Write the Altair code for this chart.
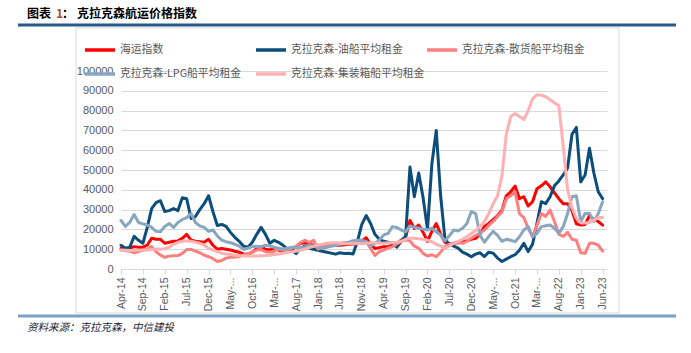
import altair as alt
import pandas as pd

# ---------------- data ----------------
series_names = ["海运指数", "克拉克森-油船平均租金", "克拉克森-散货船平均租金",
                "克拉克森-LPG船平均租金", "克拉克森-集装箱船平均租金"]
series_colors = ["#FF0000", "#0D4D7B", "#FF7F7F", "#88A6BF", "#FFB1B1"]

tick_labels = ["Apr-14", "Sep-14", "Feb-15", "Jul-15", "Dec-15", "May-...", "Oct-16",
               "Mar-...", "Aug-17", "Jan-18", "Jun-18", "Nov-18", "Apr-19", "Sep-19",
               "Feb-20", "Jul-20", "Dec-20", "May-...", "Oct-21", "Mar-...", "Aug-22",
               "Jan-23", "Jun-23"]

shipping_index = [
    10500, 10000, 10500, 11300, 11000, 11000, 12000, 15500, 15000, 15000,
    13000, 13500, 14000, 14200, 15500, 17500, 14600, 14000, 13800, 13500,
    15000, 12000, 10000, 10400, 10000, 9600, 9000, 8500, 7500, 7500,
    8500, 10300, 11300, 10000, 9600, 10400, 9500, 8700, 9500, 10000,
    11300, 13000, 13300, 12500, 12000, 11300, 11500, 12000, 12100, 12000,
    12000, 12200, 12400, 12600, 13000, 14000, 15800, 12500, 10400, 10800,
    11300, 11300, 12000, 13000, 14500, 16000, 24500, 20500, 22200, 18500,
    14000, 19000, 23000, 17500, 13500, 12600, 13000, 13300, 13800, 14200,
    15000, 15500, 17500, 21500, 23000, 25000, 27000, 29500, 37000, 39000,
    41900, 35500, 36500, 31800, 34000, 40500, 42000, 44000, 41500, 38500,
    35500, 33000, 33000, 29500, 22800, 22200, 22500, 27000, 25000, 24000,
    22200]

tanker = [
    12000, 10500, 11000, 16500, 14500, 13000, 21000, 30500, 33500, 34500,
    29000, 29500, 30500, 29500, 36000, 35500, 25500, 26500, 30000, 33000,
    37000, 29000, 22000, 22500, 21500, 18500, 16000, 14000, 11500, 11000,
    13500, 17500, 21000, 17500, 13000, 14500, 13500, 12000, 10000, 9500,
    7800, 10500, 11500, 10500, 10000, 9500, 9000, 8500, 8000, 7500,
    8200, 7800, 8000, 7600, 14000, 22500, 27000, 23000, 17500, 15000,
    14000, 13500, 13000, 11000, 14000, 16500, 51500, 36500, 48500, 36000,
    20000, 53000, 70000, 37000, 15000, 12500, 11500, 10500, 8500, 7500,
    6200, 7500, 8200, 6300, 8500, 8000, 5500, 3800, 5000, 6200,
    7200, 9500, 13000, 8800, 12500, 23000, 34000, 33000, 36500, 42000,
    44500, 47500, 51000, 68000, 71500, 44000, 47500, 61000, 48500, 39000,
    35500]

dry_bulk = [
    9600, 9300, 9000, 8200, 8800, 9600, 10000, 11300, 8700, 7000,
    5900, 6500, 6700, 6800, 7900, 9800, 9900, 9000, 8200, 7000,
    6200, 5200, 3800, 4300, 5500, 5900, 6000, 6300, 7000, 7800,
    8500, 9600, 9800, 8700, 8500, 9000, 10000, 9500, 9800, 10500,
    11300, 13500, 14500, 13500, 14500, 10000, 11000, 11500, 12000, 12500,
    13000, 13300, 12800, 12500, 13000, 13500, 13800, 10400, 6800, 8800,
    9600, 10500, 11300, 12600, 14000, 14600, 14200, 11500, 10500, 7900,
    6600, 7200, 6200, 8500, 11300, 12500, 13000, 13300, 13000, 14000,
    15500, 17000, 18000, 19700, 22000, 24000, 26500, 28800, 35500, 37000,
    39000, 28000, 26000, 20500, 16300, 22000, 28000, 26500, 29800, 24000,
    17500, 16500, 18500, 15000, 14500, 8200, 7900, 13000, 13000, 12000,
    9000]

lpg = [
    24500, 21500, 23500, 27500, 23500, 22800, 22200, 21000, 19000, 18800,
    21500, 23000, 21000, 23500, 25000, 26000, 28000, 23500, 21800, 21000,
    19000, 19700, 16700, 14600, 13800, 13300, 12500, 11500, 10000, 10500,
    11300, 11500, 11300, 12000, 11600, 11000, 10500, 10000, 10500, 11000,
    11000, 10500, 11200, 12000, 11500, 11000, 10500, 11000, 11500, 12000,
    12500, 13000, 13500, 14300, 14500, 14600, 13800, 11500, 13000, 14600,
    17200, 18000, 21400, 21000, 19700, 18800, 21700, 21000, 20600, 20200,
    19700, 20600, 18800, 17200, 14200, 16800, 19700, 19200, 20600, 23000,
    29000, 28000, 17000, 13500, 16500, 19000, 17000, 14000, 15000, 14500,
    13800, 16300, 19700, 21400, 16300, 18000, 21400, 21800, 22200, 20600,
    18000, 21400, 28000, 36500, 37000, 24000, 28000, 28000, 24000, 28000,
    34000]

container = [
    9500, 9500, 9300, 9400, 9500, 9500, 9600, 9800, 10000, 10000,
    10200, 11000, 12500, 13500, 14000, 14300, 14000, 13500, 13000, 12000,
    10500, 9500, 8800, 8000, 7600, 7300, 7000, 6800, 6700, 6600,
    6600, 6600, 6700, 6800, 7000, 7300, 7600, 8000, 8500, 8700,
    9000, 9500, 10000, 10800, 11500, 12100, 12500, 13000, 13300, 13200,
    13000, 12800, 12800, 13000, 13000, 12800, 13000, 13300, 13300, 13000,
    13000, 13200, 13300, 13500, 14000, 15000, 15500, 15500, 15300, 15000,
    14500, 13800, 12500, 11600, 10400, 11600, 13000, 14000, 15000, 16300,
    18000, 19500, 21500, 24000, 28000, 33000, 37000, 47000, 68000, 77000,
    78500, 77000, 75500, 80000, 86000, 88000, 87800, 87000, 85500, 84000,
    82500, 62000, 40000, 31000, 25500, 23200, 23200, 23500, 24500, 26000,
    26000]

# ---------------- build table ----------------
all_series = [shipping_index, tanker, dry_bulk, lpg, container]
rows = []
for name, vals in zip(series_names, all_series):
    for m, v in enumerate(vals):
        rows.append({"m": m, "v": v, "s": name})
df = pd.DataFrame(rows)

label_js = "[" + ",".join("'" + t + "'" for t in tick_labels) + "]"

CJK = "Noto Sans CJK SC"
OX, OY = 121, 71          # plot origin in page pixels
W, H = 486, 198

lines = alt.Chart(df).mark_line(strokeWidth=3, strokeJoin="round", strokeCap="round").encode(
    x=alt.X("m:Q",
            scale=alt.Scale(domain=[0, 111], nice=False, zero=False),
            axis=alt.Axis(values=list(range(0, 111, 5)),
                          labelExpr=label_js + "[round(datum.value/5)]",
                          labelAngle=-90, grid=False, domainColor="#D9D9D9",
                          tickColor="#D9D9D9", tickSize=5, labelFontSize=10.5,
                          labelColor="#595959", labelFont="Liberation Sans",
                          labelPadding=3, title=None)),
    y=alt.Y("v:Q",
            scale=alt.Scale(domain=[0, 100000], nice=False),
            axis=alt.Axis(values=list(range(0, 100001, 10000)), grid=True,
                          gridColor="#D9D9D9", domain=False, ticks=False,
                          labelFontSize=11, labelColor="#595959",
                          labelFont="Liberation Sans", labelPadding=8,
                          format="d", title=None)),
    color=alt.Color("s:N",
                    scale=alt.Scale(domain=series_names, range=series_colors),
                    sort=series_names,
                    legend=alt.Legend(orient="none", legendX=83 - OX, legendY=33 - OY,
                                      direction="horizontal",
                                      columns=3, gridAlign="all", symbolType="stroke",
                                      symbolSize=900, symbolStrokeWidth=3.5,
                                      labelFontSize=10.8, labelColor="#595959",
                                      labelFont=CJK, title=None, rowPadding=0,
                                      columnPadding=-8, labelOffset=3, labelLimit=0)),
)

one = pd.DataFrame({"a": [0]})

frame = alt.Chart(one).mark_rect(fillOpacity=0, stroke="#D9D9D9", strokeWidth=1).encode(
    x=alt.value(76 - OX), x2=alt.value(619 - OX),
    y=alt.value(28 - OY), y2=alt.value(313 - OY))

top_rule = alt.Chart(one).mark_rule(color="#2A5B88", strokeWidth=3).encode(
    x=alt.value(18 - OX), x2=alt.value(676 - OX), y=alt.value(25 - OY))
bottom_rule = alt.Chart(one).mark_rule(color="#7FA2C0", strokeWidth=3).encode(
    x=alt.value(18 - OX), x2=alt.value(676 - OX), y=alt.value(316 - OY))


def text_layer(txt, x, y, size, color="#000000", weight="normal", style="normal"):
    return alt.Chart(pd.DataFrame({"t": [txt]})).mark_text(
        align="left", baseline="middle", font=CJK, fontSize=size,
        fontWeight=weight, fontStyle=style, color=color).encode(
        text="t:N", x=alt.value(x - OX), y=alt.value(y - OY))


title_a = text_layer("图表", 27, 14, 12, weight="bold")
title_b = text_layer("1", 56, 14, 12, color="#A0522D", weight="bold")
title_c = text_layer("：", 62, 14, 12, weight="bold")
title_d = text_layer("克拉克森航运价格指数", 77, 14, 12, weight="bold")
source = text_layer("资料来源：克拉克森，中信建投", 27, 328, 10.5, color="#1B1B33", style="italic")

chart = alt.layer(frame, lines, top_rule, bottom_rule,
                  title_a, title_b, title_c, title_d, source).properties(
    width=W, height=H,
    padding={"left": OX, "top": OY, "right": 691 - OX - W, "bottom": 353 - OY - H},
    autosize=alt.AutoSizeParams(type="none"),
).configure_view(stroke=None)

chart.save("out.html", embed_options={"renderer": "svg", "actions": False})
